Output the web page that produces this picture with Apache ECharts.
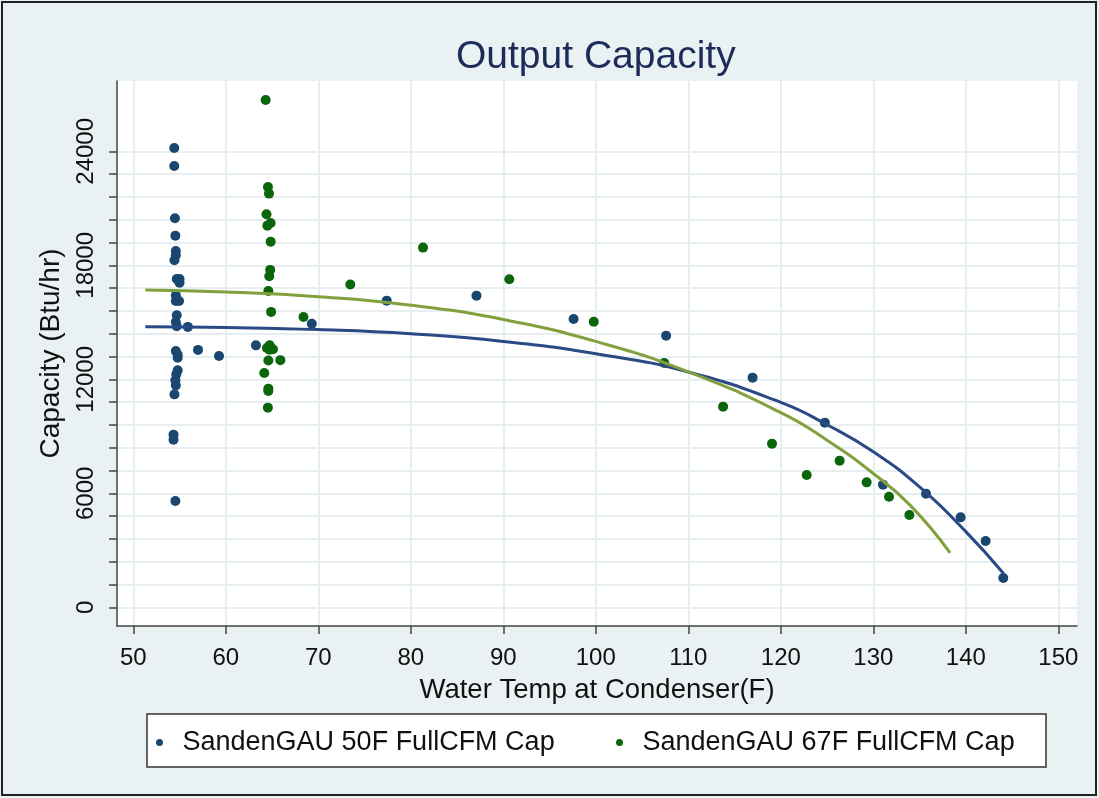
<!DOCTYPE html>
<html>
<head>
<meta charset="utf-8">
<title>Output Capacity</title>
<script src="https://cdn.jsdelivr.net/npm/echarts@6/dist/echarts.min.js"></script>
<style>
html, body { margin: 0; padding: 0; background: #e9f1f2; }
#chart { width: 1099px; height: 798px; }
</style>
</head>
<body>
<div id="chart"></div>
<script>
// 50F FullCFM capacity points
const temp50 = [54.43, 54.43, 54.5, 54.55, 54.6, 54.6, 54.45, 54.7, 55.0, 55.0,
  54.6, 54.6, 54.95, 54.7, 54.6, 54.7, 55.9, 54.6, 54.8, 54.8,
  57.0, 59.27, 63.26, 54.8, 54.65, 54.55, 54.6, 54.45, 54.35, 54.35,
  54.55, 69.3, 77.4, 87.1, 97.6, 107.6, 116.95, 124.76, 131.05, 135.7,
  139.44, 142.14, 144.05];
const cap50 = [24174, 23226, 20474, 19563, 18754, 18526, 18263, 17280, 17280, 17080,
  16430, 16120, 16120, 15370, 15020, 14790, 14760, 13490, 13300, 13140,
  13550, 13230, 13789, 12474, 12263, 11947, 11684, 11210, 9090, 8826,
  5595, 14930, 16142, 16405, 15175, 14300, 12089, 9721, 6458, 5984,
  4737, 3490, 1542];

// 67F FullCFM capacity points
const temp67 = [64.31, 64.56, 64.67, 64.4, 64.5, 64.85, 64.85, 64.8, 64.7, 64.6,
  64.9, 68.4, 73.46, 81.32, 90.65, 99.78, 107.4, 64.74, 64.45, 65.1,
  64.74, 65.9, 64.6, 64.16, 64.6, 64.6, 64.55, 113.76, 119.05, 122.8,
  126.36, 129.28, 131.7, 133.9];
const cap67 = [26700, 22121, 21774, 20684, 20089, 20226, 19247, 17760, 17425, 16645,
  15550, 15285, 16990, 18932, 17268, 15033, 12858, 13789, 13650, 13579,
  13563, 13010, 12990, 12332, 11510, 11384, 10510, 10563, 8616, 6963,
  7721, 6579, 5826, 4858];

// fitted curves
const fitTemp50 = [51.3, 60, 70, 80, 90, 100, 110, 120, 125, 130, 135, 140, 144.1];
const fitCap50 = [14770, 14727, 14617, 14397, 13997, 13347, 12387, 10787, 9612, 8187, 6337, 3987, 1773];
const fitTemp67 = [51.3, 60, 70, 80, 90, 100, 110, 120, 125, 130, 134, 138.3];
const fitCap67 = [16700, 16596, 16346, 15896, 15146, 13996, 12396, 10246, 8796, 7046, 5366, 2872];

// axis ticks
const tempTicks = [50, 60, 70, 80, 90, 100, 110, 120, 130, 140, 150];
const capTicks = [0, 1200, 2400, 3600, 4800, 6000, 7200, 8400, 9600, 10800, 12000,
  13200, 14400, 15600, 16800, 18000, 19200, 20400, 21600, 22800, 24000];
const capLabels = [0, 6000, 12000, 18000, 24000];

const names = ["SandenGAU 50F FullCFM Cap", "SandenGAU 67F FullCFM Cap"];

function pairs(xs, ys) {
  return xs.map((x, i) => [x, ys[i]]);
}

const font = "'Liberation Sans', Arial, sans-serif";
const chart = echarts.init(document.getElementById("chart"));

chart.setOption({
  animation: false,
  backgroundColor: "#e9f1f2",
  title: {
    text: "Output Capacity",
    left: 451,
    top: 33,
    textStyle: { fontFamily: font, fontSize: 39, fontWeight: "normal", color: "#1c2b59" },
  },
  grid: {
    left: 117,
    right: 22,
    top: 81,
    bottom: 172,
    show: true,
    backgroundColor: "#ffffff",
    borderWidth: 0,
  },
  xAxis: {
    type: "value",
    min: 48.24,
    max: 152.02,
    name: "Water Temp at Condenser(F)",
    nameLocation: "middle",
    nameGap: 50,
    nameTextStyle: { fontFamily: font, fontSize: 27.5, color: "#111" },
    axisLine: { show: true, onZero: false, lineStyle: { color: "#444", width: 1.5 } },
    axisTick: { show: true, length: 8, customValues: tempTicks, lineStyle: { color: "#444", width: 1.5 } },
    axisLabel: { customValues: tempTicks, margin: 20, fontFamily: font, fontSize: 24, color: "#111" },
    splitLine: { show: true, lineStyle: { color: "#e6eef0", width: 2 } },
  },
  yAxis: {
    type: "value",
    min: -980,
    max: 27700,
    name: "Capacity (Btu/hr)",
    nameLocation: "middle",
    nameGap: 52,
    nameTextStyle: { fontFamily: font, fontSize: 28, color: "#111" },
    axisLine: { show: true, onZero: false, lineStyle: { color: "#444", width: 1.5 } },
    axisTick: { show: true, length: 8, customValues: capTicks, lineStyle: { color: "#444", width: 1.5 } },
    axisLabel: {
      customValues: capLabels,
      rotate: 90,
      margin: 19,
      fontFamily: font,
      fontSize: 24,
      color: "#111",
      formatter: (v) => String(v),
    },
    splitLine: { show: true, lineStyle: { color: "#e6eef0", width: 2 } },
  },
  legend: [
    {
      data: [names[0]],
      left: 156,
      top: 729,
      padding: 0,
      icon: "circle",
      itemWidth: 36,
      itemHeight: 7,
      z: 5,
      textStyle: { fontFamily: font, fontSize: 27, color: "#111" },
    },
    {
      data: [names[1]],
      left: 616,
      top: 729,
      padding: 0,
      icon: "circle",
      itemWidth: 36,
      itemHeight: 7,
      z: 5,
      textStyle: { fontFamily: font, fontSize: 27, color: "#111" },
    },
  ],
  graphic: [
    {
      type: "rect",
      z: 1,
      shape: { x: 147, y: 714, width: 899, height: 53 },
      style: { fill: "#ffffff", stroke: "#333", lineWidth: 1.5 },
    },
    {
      type: "rect",
      z: 1,
      shape: { x: 2, y: 2, width: 1094, height: 793 },
      style: { fill: null, stroke: "#222", lineWidth: 2 },
    },
  ],
  series: [
    {
      name: names[0],
      type: "scatter",
      symbolSize: 10,
      itemStyle: { color: "#1a476f", opacity: 1 },
      data: pairs(temp50, cap50),
    },
    {
      name: names[1],
      type: "scatter",
      symbolSize: 10,
      itemStyle: { color: "#0b650b", opacity: 1 },
      data: pairs(temp67, cap67),
    },
    {
      name: "fit50",
      type: "line",
      smooth: true,
      showSymbol: false,
      lineStyle: { color: "#2a4a86", width: 3 },
      data: pairs(fitTemp50, fitCap50),
    },
    {
      name: "fit67",
      type: "line",
      smooth: true,
      showSymbol: false,
      lineStyle: { color: "#83a03e", width: 3 },
      data: pairs(fitTemp67, fitCap67),
    },
  ],
});
</script>
</body>
</html>
